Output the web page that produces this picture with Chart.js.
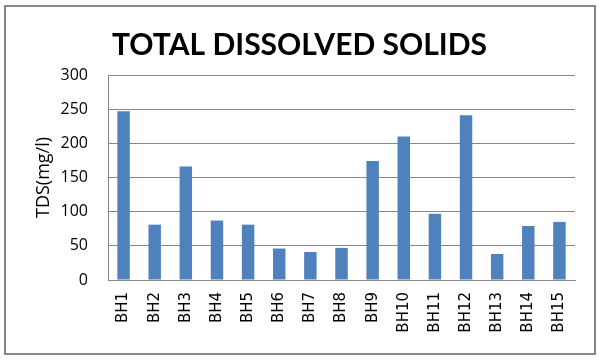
<!DOCTYPE html>
<html>
<head>
<meta charset="utf-8">
<script src="https://cdn.jsdelivr.net/npm/chart.js@4/dist/chart.umd.min.js"></script>
<style>
  html, body { margin: 0; padding: 0; background: #fff; }
  #wrap { position: relative; width: 599px; height: 360px; }
  #frame { position: absolute; left: 4px; top: 5px; width: 592px; height: 350px;
           box-sizing: border-box; border: 2px solid #868686; pointer-events: none; }
</style>
</head>
<body>
<div id="wrap">
  <canvas id="c" width="599" height="360"></canvas>
  <div id="frame"></div>
</div>
<script>
const categories = ["BH1","BH2","BH3","BH4","BH5","BH6","BH7","BH8","BH9","BH10","BH11","BH12","BH13","BH14","BH15"];
const tdsValues = [247, 81, 166, 87, 81, 46, 41, 47, 174, 210, 97, 241, 38, 79, 85];
const chartTitle = "TOTAL DISSOLVED SOLIDS";
const yAxisTitle = "TDS(mg/l)";
const yTicks = [0, 50, 100, 150, 200, 250, 300];

new Chart(document.getElementById('c'), {
  type: 'bar',
  data: {
    labels: categories,
    datasets: [{
      data: tdsValues,
      backgroundColor: '#4F81BD',
      borderWidth: 0,
      categoryPercentage: 1.0,
      barPercentage: 0.4
    }]
  },
  options: {
    responsive: false,
    animation: false,
    devicePixelRatio: 1,
    layout: { padding: { left: 24, right: 24, top: 0, bottom: 0 } },
    plugins: {
      legend: { display: false },
      tooltip: { enabled: false },
      title: {
        display: true,
        text: chartTitle,
        color: '#000',
        font: { family: 'Lato, "Open Sans", sans-serif', size: 30, weight: 'bold' },
        padding: { top: 27, bottom: 12 }
      }
    },
    scales: {
      x: {
        grid: { display: false, drawTicks: false },
        border: { display: true, color: '#868686', width: 1 },
        ticks: {
          color: '#000',
          font: { family: '"DejaVu Sans", sans-serif', size: 15 },
          minRotation: 90, maxRotation: 90,
          autoSkip: false,
          padding: 12
        },
        afterFit: (s) => { s.height = 80; }
      },
      y: {
        min: 0, max: 300,
        afterBuildTicks: (s) => { s.ticks = yTicks.map(v => ({ value: v })); },
        grid: { color: '#868686', lineWidth: 1, drawTicks: false },
        border: { display: true, color: '#868686', width: 1 },
        ticks: {
          color: '#000',
          font: { family: '"Open Sans", sans-serif', size: 16 },
          padding: 20
        },
        title: {
          display: true,
          text: yAxisTitle,
          color: '#000',
          font: { family: '"Open Sans", sans-serif', size: 18 },
          padding: { top: 9, bottom: 0 }
        },
        afterFit: (s) => { s.width = 84; }
      }
    }
  }
});
</script>
</body>
</html>
